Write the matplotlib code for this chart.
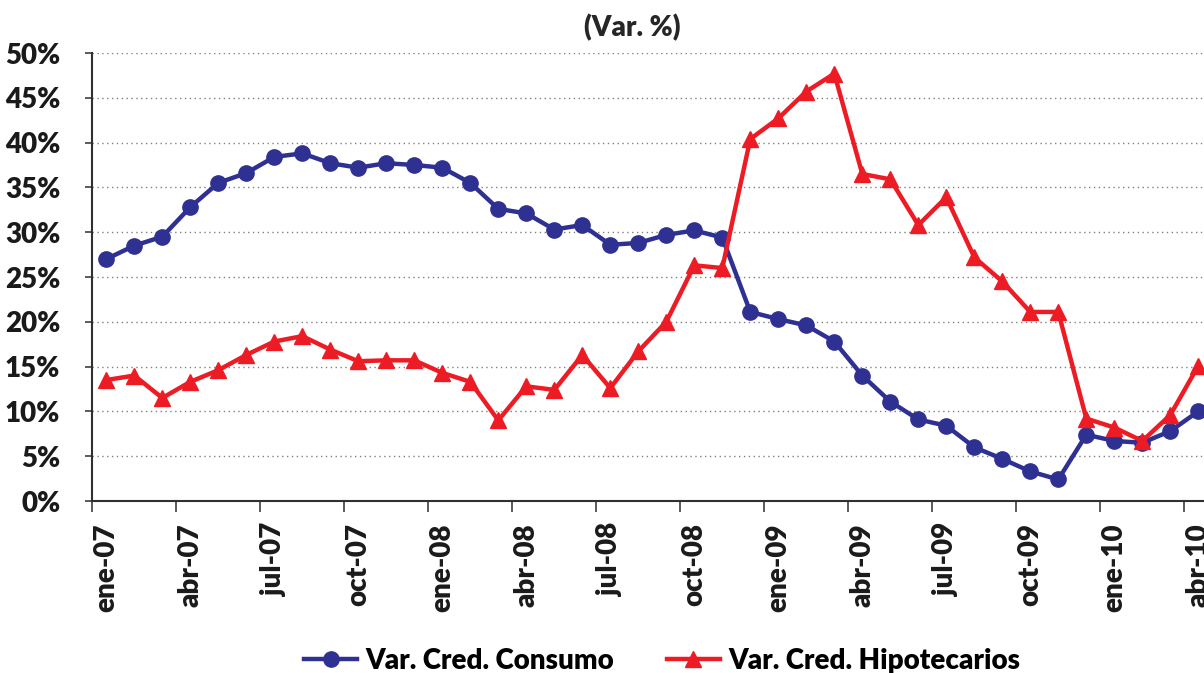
import numpy as np
import matplotlib
matplotlib.use('Agg')
import matplotlib.pyplot as plt
from matplotlib.ticker import FixedLocator, PercentFormatter

plt.rcParams['font.family'] = ['Lato', 'DejaVu Sans']
peso = 'heavy'

# Meses (ene-07 .. abr-10)
meses = ['ene', 'feb', 'mar', 'abr', 'may', 'jun', 'jul', 'ago', 'sep', 'oct', 'nov', 'dic']
fechas = [f"{m}-{a:02d}" for a in (7, 8, 9, 10) for m in meses][:40]

# Var. % créditos de consumo
consumo = [27.0, 28.5, 29.5, 32.8, 35.5, 36.6, 38.4, 38.8, 37.7, 37.2,
           37.7, 37.5, 37.2, 35.5, 32.6, 32.1, 30.3, 30.8, 28.6, 28.8,
           29.7, 30.2, 29.4, 21.1, 20.3, 19.6, 17.8, 14.0, 11.1, 9.1,
           8.4, 6.0, 4.7, 3.3, 2.4, 7.4, 6.7, 6.5, 7.8, 10.0]

# Var. % créditos hipotecarios
hipotecarios = [13.5, 14.0, 11.5, 13.3, 14.6, 16.3, 17.8, 18.4, 16.9, 15.6,
                15.7, 15.7, 14.3, 13.3, 9.0, 12.8, 12.4, 16.3, 12.6, 16.7,
                20.0, 26.3, 26.0, 40.4, 42.7, 45.7, 47.7, 36.5, 35.9, 30.8,
                33.9, 27.2, 24.5, 21.1, 21.1, 9.2, 8.2, 6.7, 9.6, 15.1]

azul = '#2E3192'
rojo = '#ED1C24'

fig = plt.figure(figsize=(12.04, 6.73), dpi=100)
# el area del grafico sigue un poco fuera del borde derecho (recortado)
ax = fig.add_axes([92.3 / 1204, 172 / 673, 1120 / 1204, 448 / 673])

x = np.arange(len(fechas))
ax.plot(x, consumo, color=azul, lw=3.2, marker='o', ms=11, label='Var. Cred. Consumo')
ax.plot(x, hipotecarios, color=rojo, lw=3.2, marker='^', ms=12, label='Var. Cred. Hipotecarios')

ax.set_xlim(-0.5, 39.5)
ax.set_ylim(0, 50)
ax.set_yticks(np.arange(0, 51, 5))
ax.yaxis.set_major_formatter(PercentFormatter(decimals=0))
ax.grid(axis='y', color='#808080', linestyle=(0, (1, 2.5)), linewidth=1)

# etiquetas cada 3 meses, marcas entre categorias
ax.set_xticks(x[::3])
ax.set_xticklabels(fechas[::3], rotation=90, fontsize=20, fontweight=peso, color='#1a1a1a')
ax.xaxis.set_minor_locator(FixedLocator(np.arange(-0.5, 40, 3)))
ax.tick_params(axis='x', which='major', length=0, pad=16)
ax.tick_params(axis='x', which='minor', length=8, width=1.2, color='#404040')
ax.tick_params(axis='y', length=5, width=1.2, color='#404040', labelsize=20, pad=18,
               labelcolor='#1a1a1a')
for lab in ax.get_yticklabels():
    lab.set_fontweight(peso)

for s in ('top', 'right'):
    ax.spines[s].set_visible(False)
for s in ('left', 'bottom'):
    ax.spines[s].set_color('#303030')
    ax.spines[s].set_linewidth(1.5)

fig.text(632 / 1204, 1 - 28 / 673, '(Var. %)', ha='center', va='center',
         fontsize=20, fontweight=peso, color='#262626')

fig.legend(loc='center', bbox_to_anchor=(662 / 1204, 1 - 661 / 673), ncol=2,
           frameon=False, handlelength=1.9, handletextpad=0.3, columnspacing=1.9,
           prop={'weight': peso, 'size': 20})

fig.savefig('out.png', dpi=100)
